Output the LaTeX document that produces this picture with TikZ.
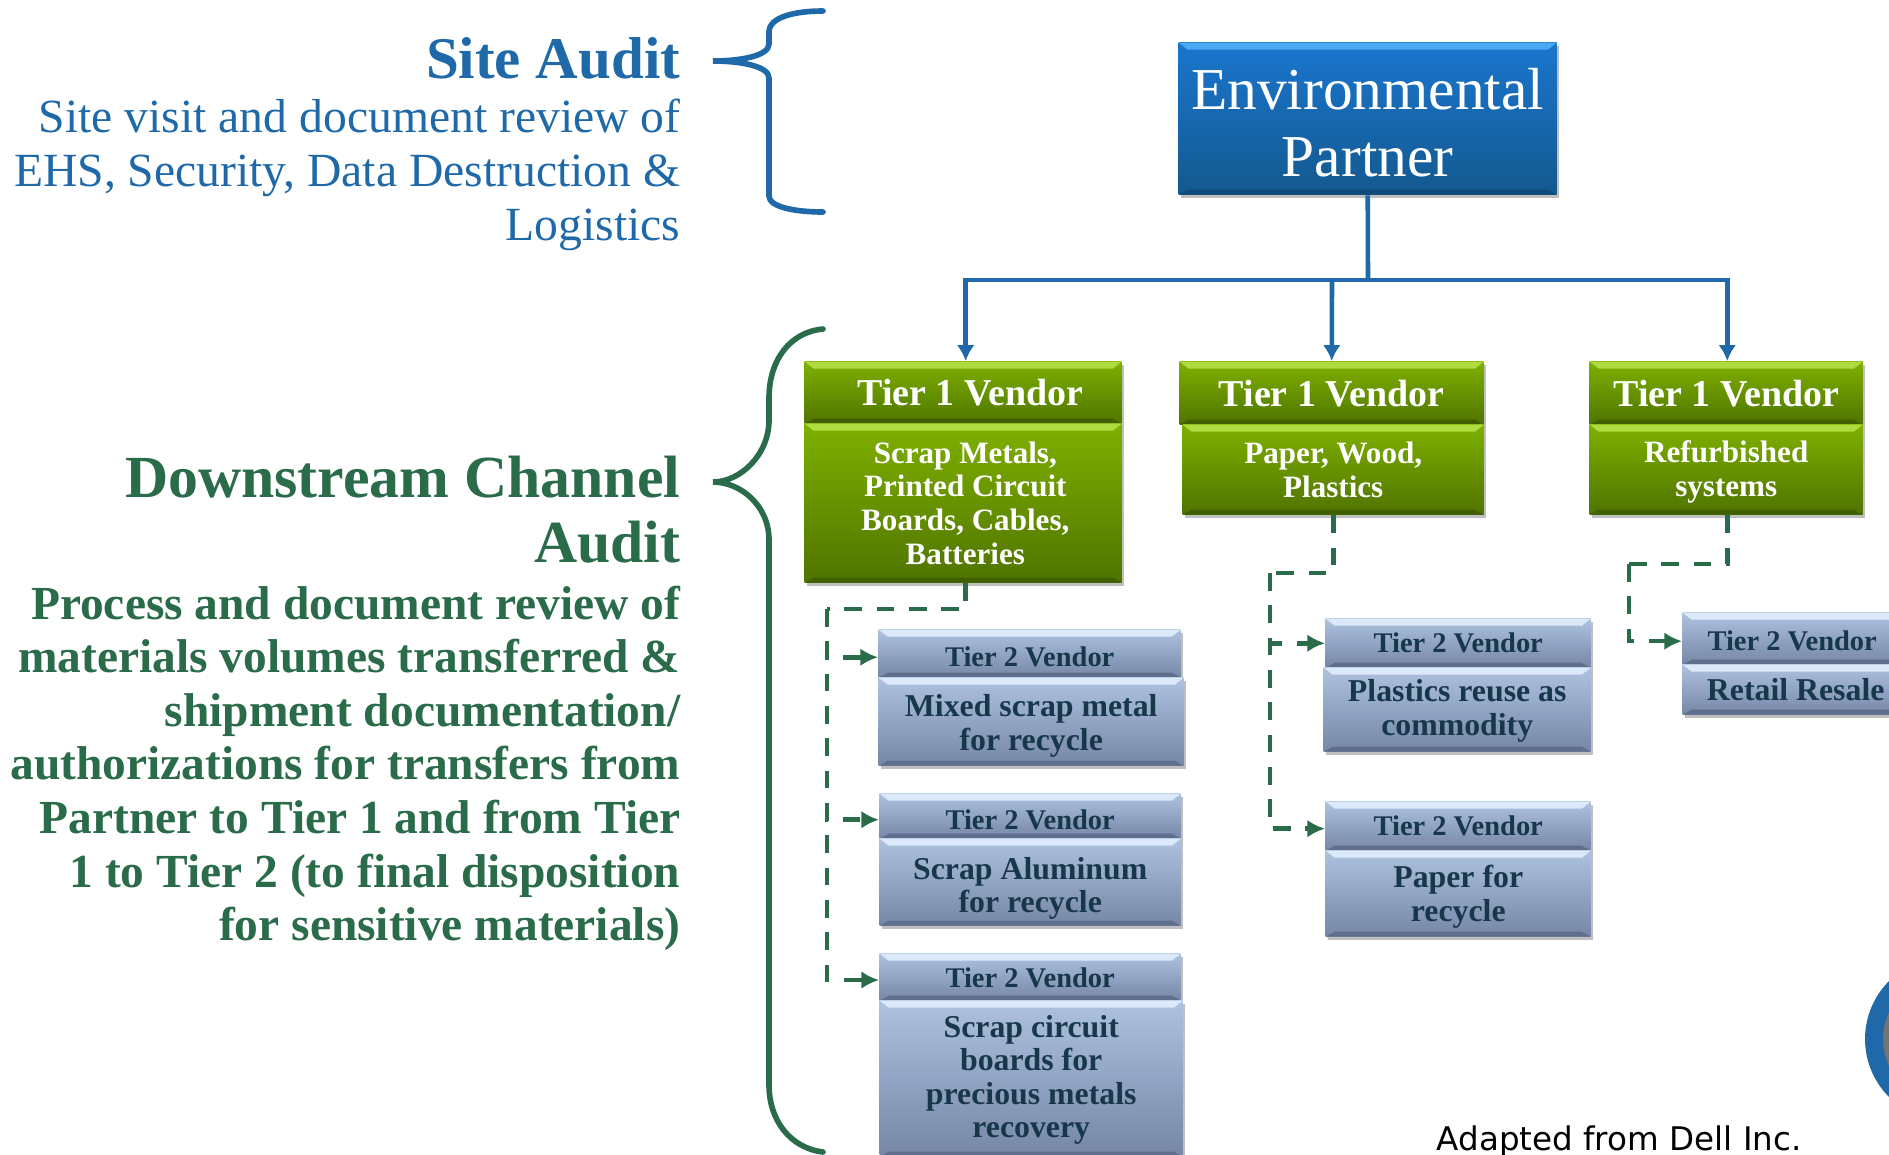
\documentclass[tikz,border=0pt]{standalone}
\usepackage{fontspec}
\setmainfont{Liberation Serif}
\newfontfamily\creditfont{DejaVu Sans}
\usetikzlibrary{calc, positioning, shadows, arrows.meta}
\definecolor{auditblue}{HTML}{1F69A8}
\definecolor{auditgreen}{HTML}{2A6B4A}
\definecolor{slatetext}{HTML}{17384A}
\definecolor{partnertop}{HTML}{1B76CE}
\definecolor{partnerlow}{HTML}{13598F}
\definecolor{partnerlit}{HTML}{49A9F2}
\definecolor{partnerdim}{HTML}{0F4A78}
\definecolor{tiertop}{HTML}{7FB000}
\definecolor{tierlow}{HTML}{4F7400}
\definecolor{tierlit}{HTML}{AEDC40}
\definecolor{tierdim}{HTML}{3F5F00}
\definecolor{subtop}{HTML}{AEC2E0}
\definecolor{sublow}{HTML}{7686A6}
\definecolor{sublit}{HTML}{DCE9FA}
\definecolor{subdim}{HTML}{5F6E8C}
\tikzset{
  bevelbox/.style n args={4}{
    anchor=north west, inner sep=0pt, align=center, text=white,
    top color=#1, bottom color=#2,
    drop shadow={shadow xshift=.6pt, shadow yshift=-.8pt, fill=black, opacity=.25},
    path picture={
      \fill[#3] (path picture bounding box.north west) -- (path picture bounding box.north east)
        -- ([shift={(-.09,-.07)}]path picture bounding box.north east)
        -- ([shift={(.09,-.07)}]path picture bounding box.north west) -- cycle;
      \fill[#4] (path picture bounding box.south west) -- (path picture bounding box.south east)
        -- ([shift={(-.09,.05)}]path picture bounding box.south east)
        -- ([shift={(.09,.05)}]path picture bounding box.south west) -- cycle;
    }},
  partnerbox/.style={bevelbox={partnertop}{partnerlow}{partnerlit}{partnerdim}, font=\fontsize{16.9}{19}\selectfont},
  tierhead/.style={bevelbox={tiertop}{tierlow}{tierlit}{tierdim}, font=\bfseries\fontsize{10.8}{12}\selectfont},
  tierbody/.style={bevelbox={tiertop}{tierlow}{tierlit}{tierdim}, font=\bfseries\fontsize{8.85}{9.6}\selectfont},
  subhead/.style={bevelbox={subtop}{sublow}{sublit}{subdim}, text=slatetext, font=\bfseries\fontsize{8.1}{9.5}\selectfont},
  subbody/.style={bevelbox={subtop}{sublow}{sublit}{subdim}, text=slatetext, font=\bfseries\fontsize{9.05}{9.5}\selectfont},
  trunkline/.style={auditblue, line width=1.3pt},
  feedline/.style={trunkline, -{Latex[length=4.5pt,width=5pt]}},
  dashline/.style={auditgreen, line width=1.3pt, dash pattern=on 5pt off 4.2pt},
  dasharrow/.style={dashline, -{Latex[length=5pt,width=5pt]}},
  brace/.style={line width=1.6pt, line cap=round}
}
\begin{document}
\begin{tikzpicture}
  \clip (0,0) rectangle (18.89,-11.54);
  \useasboundingbox (0,0) rectangle (18.89,-11.54);
  % left column
  \node[anchor=east, inner sep=0pt, text=auditblue, font=\bfseries\fontsize{16.8}{18}\selectfont] (sitetitle) at (6.81,-.58) {Site Audit};
  \node[anchor=north east, align=right, inner sep=0pt, text=auditblue, font=\fontsize{13.55}{15.4}\selectfont] (sitetext) at (6.81,-.98)
    {Site visit and document review of\\EHS, Security, Data Destruction \&\\Logistics};
  \node[anchor=north east, align=right, inner sep=0pt, text=auditgreen, font=\bfseries\fontsize{17}{18.6}\selectfont] (chantitle) at (6.81,-4.55)
    {Downstream Channel\\Audit};
  \node[anchor=north east, align=right, inner sep=0pt, text=auditgreen, font=\bfseries\fontsize{13.5}{15.25}\selectfont] (chantext) at (6.81,-5.85)
    {Process and document review of\\materials volumes transferred \&\\shipment documentation/\\authorizations for transfers from\\Partner to Tier 1 and from Tier\\1 to Tier 2 (to final disposition\\for sensitive materials)};
  % braces
  \draw[brace, auditblue] (8.23,-.11) .. controls (7.95,-.11) and (7.69,-.17) .. (7.69,-.32) -- (7.69,-.44)
    .. controls (7.69,-.56) and (7.4,-.61) .. (7.13,-.61)
    .. controls (7.4,-.61) and (7.69,-.66) .. (7.69,-.78) -- (7.69,-1.96)
    .. controls (7.69,-2.07) and (7.95,-2.12) .. (8.23,-2.12);
  \draw[brace, auditgreen] (8.23,-3.29) .. controls (7.9,-3.32) and (7.69,-3.6) .. (7.69,-3.98) -- (7.69,-4.2)
    .. controls (7.69,-4.55) and (7.4,-4.82) .. (7.13,-4.82)
    .. controls (7.4,-4.82) and (7.69,-5.05) .. (7.69,-5.4) -- (7.69,-10.85)
    .. controls (7.69,-11.2) and (7.9,-11.48) .. (8.23,-11.52);
  % partner and tier 1
  \node[partnerbox, minimum width=3.78cm, minimum height=1.52cm] (partner) at (11.78,-.42) {\rule{0pt}{13.8pt}Environmental\\Partner};
  \node[tierhead, minimum width=3.17cm, minimum height=.62cm] (headA) at (8.04,-3.61) {\hspace*{4pt}Tier 1 Vendor};
  \node[tierbody, minimum width=3.17cm, minimum height=1.59cm] (bodyA) at (8.04,-4.23) {\hspace*{1.2pt}Scrap Metals,\\\hspace*{1.2pt}Printed Circuit\\\hspace*{1.2pt}Boards, Cables,\\\hspace*{1.2pt}Batteries};
  \node[tierhead, minimum width=3.04cm, minimum height=.63cm] (headB) at (11.79,-3.61) {Tier 1 Vendor};
  \node[tierbody, minimum width=3.01cm, minimum height=.90cm] (bodyB) at (11.82,-4.24) {Paper, Wood,\\Plastics};
  \node[tierhead, minimum width=2.73cm, minimum height=.63cm] (headC) at (15.89,-3.61) {Tier 1 Vendor};
  \node[tierbody, minimum width=2.73cm, minimum height=.90cm] (bodyC) at (15.89,-4.24) {\rule{0pt}{7.5pt}Refurbished\\systems};
  % tier 2
  \node[subhead, minimum width=3.02cm, minimum height=.48cm] (subheadA) at (8.78,-6.29) {\rule{0pt}{7.6pt}Tier 2 Vendor};
  \node[subbody, minimum width=3.05cm, minimum height=.88cm] (subbodyA) at (8.78,-6.77) {\rule{0pt}{8.7pt}Mixed scrap metal\\for recycle};
  \node[subhead, minimum width=3.01cm, minimum height=.45cm] (subheadB) at (8.79,-7.93) {\rule{0pt}{7.6pt}Tier 2 Vendor};
  \node[subbody, minimum width=3.01cm, minimum height=.87cm] (subbodyB) at (8.79,-8.38) {\rule{0pt}{9.7pt}Scrap Aluminum\\for recycle};
  \node[subhead, minimum width=3.01cm, minimum height=.47cm] (subheadC) at (8.79,-9.53) {\rule{0pt}{6.2pt}Tier 2 Vendor};
  \node[subbody, minimum width=3.03cm, minimum height=1.56cm] (subbodyC) at (8.79,-10) {\rule{0pt}{7pt}Scrap circuit\\boards for\\precious metals\\recovery};
  \node[subhead, minimum width=2.65cm, minimum height=.49cm] (subheadD) at (13.25,-6.18) {Tier 2 Vendor};
  \node[subbody, minimum width=2.67cm, minimum height=.84cm] (subbodyD) at (13.23,-6.67) {\rule{0pt}{7pt}Plastics reuse as\\commodity};
  \node[subhead, minimum width=2.65cm, minimum height=.49cm] (subheadE) at (13.25,-8.01) {Tier 2 Vendor};
  \node[subbody, minimum width=2.65cm, minimum height=.86cm] (subbodyE) at (13.25,-8.50) {\rule{0pt}{8pt}Paper for\\recycle};
  \node[subhead, minimum width=2.4cm, minimum height=.52cm] (subheadF) at (16.82,-6.12) {\rule{0pt}{7pt}\hspace*{-6pt}Tier 2 Vendor};
  \node[subbody, minimum width=2.4cm, minimum height=.50cm] (subbodyF) at (16.82,-6.64) {\hspace*{-4pt}Retail Resale};
  % partner connectors
  \coordinate (trunk) at (13.68,-2.80);
  \coordinate (split) at (13.32,-2.80);
  \draw[trunkline] (partner.south) -- (trunk);
  \draw[feedline] (trunk) -| ([xshift=.7pt]headA.north);
  \draw[feedline] (trunk) -| ([xshift=.3pt]headC.north);
  \draw[feedline] (split) -- (headB.north);
  % dashed connectors
  \coordinate (busA) at (8.27,-6.09);
  \coordinate (busB) at (12.70,-5.73);
  \coordinate (busC) at (16.29,-5.64);
  \draw[dashline] ([xshift=.7pt]bodyA.south) |- (busA);
  \draw[dasharrow] (busA) |- ([yshift=-.8pt]subheadC.west);
  \draw[dasharrow] (busA) |- ([yshift=-1pt]subheadA.west);
  \draw[dasharrow] (busA) |- ([yshift=-1pt]subheadB.west);
  \draw[dashline] (bodyB.south) |- (busB);
  \draw[dasharrow] (busB) |- (subheadD.west);
  \draw[dasharrow] (busB) |- ([yshift=-.7pt]subheadE.west);
  \draw[dashline] ([xshift=.3pt]bodyC.south) |- (busC);
  \draw[dasharrow] (busC) |- ([yshift=-.7pt]subheadF.west);
  % badge and credit
  \node[circle, draw=auditblue, fill=black!55, line width=.18cm, minimum size=1.46cm, inner sep=0pt] (badge) at (19.47,-10.39) {};
  \node[anchor=base west, inner sep=0pt, font=\creditfont\fontsize{9.26}{11}\selectfont] (credit) at (14.36,-11.50) {Adapted from Dell Inc.};
\end{tikzpicture}
\end{document}
